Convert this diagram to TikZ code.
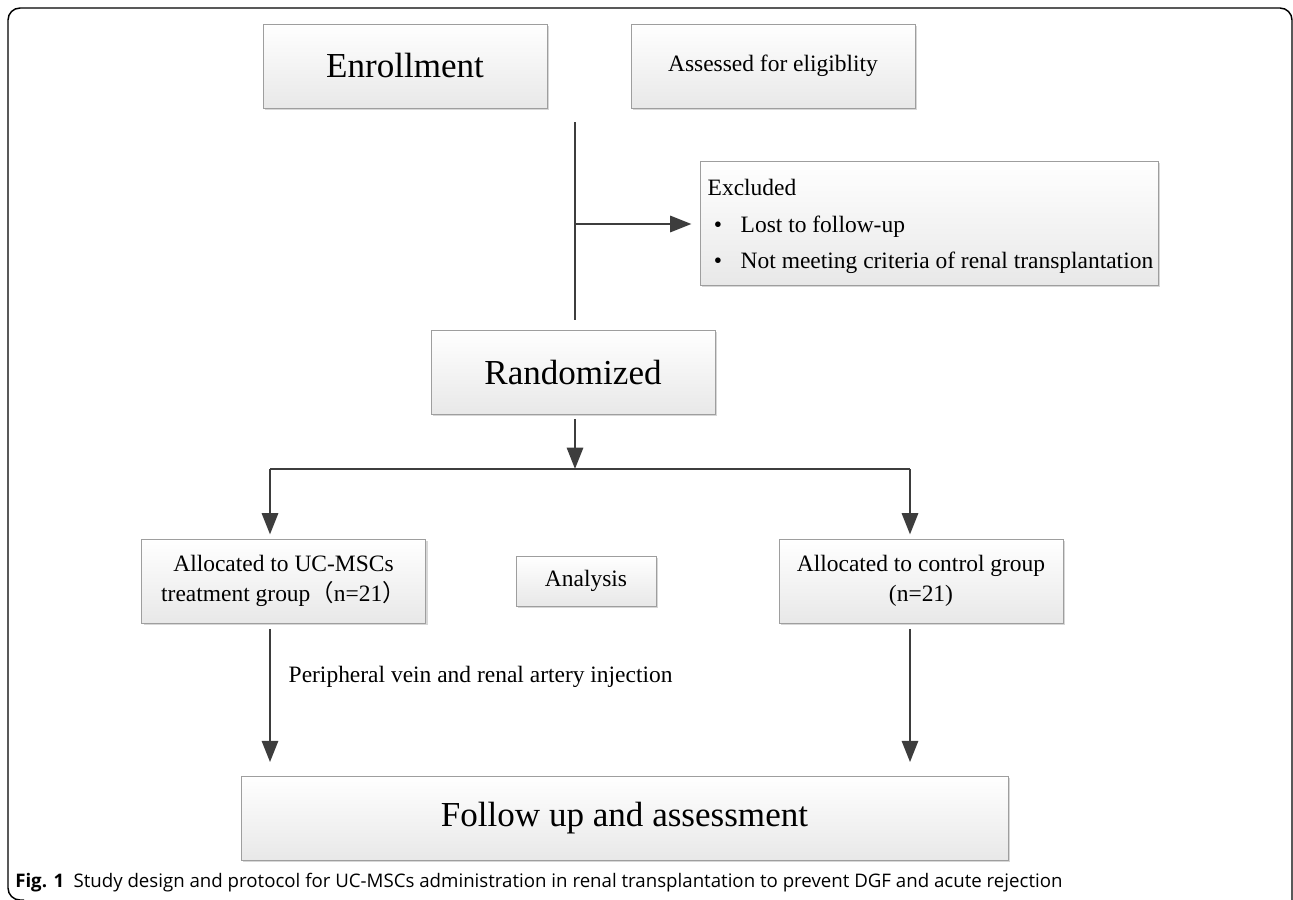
\documentclass[tikz,border=0pt]{standalone}
\usepackage{fontspec}
\setmainfont{Liberation Serif}
\newfontfamily\capfont{Open Sans}
\newfontfamily\cjk{Noto Sans CJK SC}
\usetikzlibrary{arrows.meta,shadows}
\begin{document}
\begin{tikzpicture}[x=0.75pt,y=-0.75pt,
  box/.style={draw=black!38, line width=0.7pt, top color=white, bottom color=black!9,
    drop shadow={shadow xshift=1.6pt, shadow yshift=-1.6pt, fill=black!35, opacity=0.45},
    inner sep=0pt, align=center, minimum width=213pt, minimum height=63pt},
  conn/.style={draw=black!76, line width=2.2pt},
  arr/.style={conn, -{Triangle[length=16pt,width=12pt]}},
  big/.style={font=\fontsize{26.3}{30}\selectfont},
  small/.style={font=\fontsize{17.6}{22.5}\selectfont}]
\useasboundingbox (0,0) rectangle (1293,900);
% outer frame
\draw[line width=1.1pt, rounded corners=9pt] (24,900) -- (8,900) -- (8,8) -- (1292,8) -- (1292,905);
% boxes
\node[box, big] (enroll) at (405,66) {Enrollment};
\node[box, small] (assess) at (773,66) {Assessed for eligiblity};
\node[box, minimum width=343.5pt, minimum height=93pt] (excl) at (929,223) {};
\node[small, anchor=west] (exclT) at (703,187) {Excluded};
\node[small, anchor=center] (b1) at (718,227) {•};
\node[small, anchor=west] (l1) at (736,227) {Lost to follow-up};
\node[small, anchor=center] (b2) at (718,263) {•};
\node[small, anchor=west] (l2) at (736,263) {Not meeting criteria of renal transplantation};
\node[box, big] (rand) at (573,372) {Randomized};
\node[box, small] (left) at (283.5,581) {Allocated to UC-MSCs\\treatment group{\cjk（}n=21{\cjk）}};
\node[box, small, minimum width=105pt, minimum height=37.5pt] (anal) at (586,581) {Analysis};
\node[box, small] (right) at (921,581) {Allocated to control group\\(n=21)};
\node[box, big, minimum width=575.25pt] (follow) at (624.5,818) {Follow up and assessment};
% connectors
\coordinate (vtop) at (575,122);
\coordinate (vbot) at (575,320);
\coordinate (vmid) at (575,224);
\coordinate (split) at (575,469);
\coordinate (sl) at (270,469);
\coordinate (sr) at (910,469);
\draw[conn] (vtop) -- (vbot);
\draw[arr, shorten >=6pt] (vmid) -- (excl.west |- vmid);
\draw[arr] (split |- rand.south) ++(0,5) -- (split);
\draw[conn] (sl) -- (sr);
\draw[arr, shorten >=3pt] (sl) -- (sl |- left.north);
\draw[arr, shorten >=3pt] (sr) -- (sr |- right.north);
\draw[arr, shorten <=4pt, shorten >=10pt] (sl |- left.south) -- (sl |- follow.north);
\draw[arr, shorten <=4pt, shorten >=10pt] (sr |- right.south) -- (sr |- follow.north);
\node[small, anchor=west] (inj) at (284,677) {Peripheral vein and renal artery injection};
% caption
\node[anchor=base west, inner sep=0pt, font=\capfont\fontsize{14}{16}\selectfont] (cap) at (15,887)
  {\textbf{Fig. 1}\hspace{0.5em}Study design and protocol for UC-MSCs administration in renal transplantation to prevent DGF and acute rejection};
\end{tikzpicture}
\end{document}
